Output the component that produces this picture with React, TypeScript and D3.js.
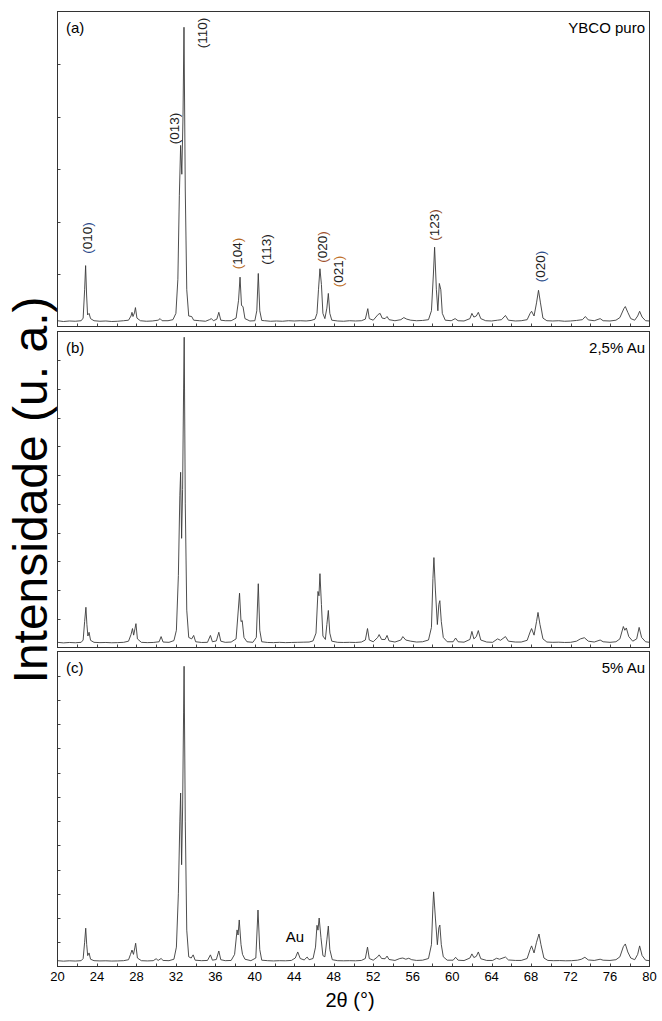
import React, { useEffect, useRef } from "react";
import * as d3 from "d3";

type Pt = [number, number];

// 2theta (deg), intensity (counts, 1000 per left tick)
const puro: Pt[] = [
  [20.0, 110], [20.6, 95], [21.2, 105], [21.8, 100], [22.4, 110], [22.6, 160], [22.75, 700], [22.85, 1160], [22.95, 600],
  [23.05, 220], [23.2, 250], [23.35, 150], [23.7, 110], [24.3, 100], [24.9, 105], [25.5, 95], [26.1, 100], [26.7, 110],
  [27.2, 120], [27.45, 200], [27.55, 270], [27.65, 190], [27.8, 260], [27.9, 360], [28.05, 160], [28.4, 110], [29.0, 100],
  [29.6, 105], [30.2, 120], [30.4, 150], [30.6, 110], [31.2, 110], [31.7, 130], [32.0, 250], [32.2, 900], [32.35, 2500],
  [32.48, 3450], [32.6, 2900], [32.72, 4000], [32.82, 5700], [32.95, 2600], [33.1, 700], [33.3, 200], [33.6, 190],
  [33.8, 120], [34.4, 110], [35.0, 100], [35.4, 130], [35.6, 150], [35.8, 110], [36.15, 140], [36.35, 270], [36.55, 120],
  [37.0, 110], [37.6, 110], [38.1, 160], [38.35, 500], [38.5, 940], [38.65, 400], [38.8, 380], [39.0, 150], [39.5, 105],
  [40.0, 110], [40.2, 300], [40.35, 1010], [40.5, 300], [40.7, 115], [41.0, 110], [41.6, 100], [42.2, 105], [42.8, 100],
  [43.4, 110], [44.0, 105], [44.6, 110], [45.2, 105], [45.7, 115], [46.1, 140], [46.3, 250], [46.45, 700], [46.6, 1100],
  [46.75, 800], [46.9, 250], [47.1, 150], [47.3, 350], [47.45, 630], [47.6, 250], [47.8, 120], [48.4, 105], [49.0, 100],
  [49.6, 110], [50.2, 105], [50.8, 110], [51.2, 140], [51.45, 340], [51.6, 150], [52.0, 120], [52.5, 230], [52.7, 250],
  [52.9, 160], [53.2, 150], [53.4, 190], [53.6, 130], [54.2, 110], [54.8, 130], [55.1, 170], [55.4, 140], [55.8, 120],
  [56.4, 110], [57.0, 115], [57.6, 130], [57.9, 300], [58.1, 1000], [58.22, 1510], [58.4, 700], [58.55, 300], [58.7, 820],
  [58.85, 700], [59.0, 250], [59.3, 120], [59.9, 110], [60.3, 150], [60.6, 110], [61.2, 105], [61.8, 150], [62.0, 250],
  [62.2, 180], [62.45, 200], [62.65, 270], [62.9, 150], [63.4, 110], [64.0, 105], [64.6, 120], [65.0, 130], [65.4, 210],
  [65.7, 120], [66.4, 105], [67.0, 110], [67.6, 130], [67.9, 250], [68.05, 290], [68.3, 200], [68.55, 450], [68.75, 690],
  [68.95, 450], [69.2, 160], [69.6, 110], [70.2, 105], [70.8, 110], [71.4, 100], [72.0, 105], [72.6, 115], [73.2, 130],
  [73.5, 190], [73.8, 125], [74.4, 110], [75.0, 150], [75.3, 110], [76.0, 105], [76.6, 120], [77.0, 170], [77.4, 340],
  [77.55, 380], [77.8, 270], [78.1, 150], [78.5, 120], [78.8, 200], [79.0, 290], [79.25, 180], [79.6, 110], [80.0, 105],
];

const au25: Pt[] = [
  [20.0, 180], [20.6, 160], [21.2, 175], [21.8, 165], [22.4, 180], [22.6, 260], [22.75, 900], [22.88, 1400], [22.98, 800],
  [23.08, 400], [23.2, 530], [23.35, 250], [23.7, 180], [24.3, 170], [24.9, 175], [25.5, 165], [26.1, 170], [26.7, 180],
  [27.2, 220], [27.45, 450], [27.6, 660], [27.72, 430], [27.85, 650], [27.95, 830], [28.1, 300], [28.5, 180], [29.1, 170],
  [29.7, 175], [30.3, 200], [30.5, 380], [30.7, 190], [31.3, 180], [31.8, 240], [32.05, 600], [32.25, 2500], [32.4, 5300],
  [32.48, 6100], [32.58, 3800], [32.68, 5500], [32.78, 9000], [32.84, 10800], [32.95, 5000], [33.1, 1300], [33.3, 350],
  [33.6, 300], [33.8, 420], [34.0, 200], [34.6, 175], [35.2, 180], [35.5, 420], [35.7, 200], [36.1, 230], [36.35, 530],
  [36.55, 220], [37.0, 180], [37.6, 190], [38.1, 300], [38.3, 1200], [38.45, 1890], [38.6, 900], [38.72, 940], [38.9, 350],
  [39.2, 200], [39.8, 180], [40.15, 350], [40.35, 2220], [40.5, 600], [40.7, 200], [41.3, 175], [41.9, 170], [42.5, 180],
  [43.1, 170], [43.7, 175], [44.3, 180], [44.9, 185], [45.5, 190], [45.9, 230], [46.2, 500], [46.4, 1950], [46.5, 1800],
  [46.6, 2570], [46.75, 1500], [46.9, 400], [47.15, 280], [47.3, 800], [47.45, 1290], [47.6, 500], [47.8, 220], [48.4, 180],
  [49.0, 175], [49.6, 180], [50.2, 175], [50.8, 190], [51.2, 260], [51.42, 660], [51.6, 260], [52.0, 200], [52.45, 350],
  [52.6, 450], [52.85, 280], [53.2, 280], [53.4, 420], [53.6, 230], [54.2, 190], [54.8, 260], [55.0, 380], [55.3, 260],
  [55.8, 220], [56.4, 190], [57.0, 200], [57.6, 260], [57.9, 700], [58.05, 2400], [58.15, 3130], [58.3, 2000], [58.5, 800],
  [58.65, 1500], [58.75, 1630], [58.9, 900], [59.1, 350], [59.5, 200], [60.1, 200], [60.35, 330], [60.6, 200], [61.2, 185],
  [61.8, 280], [62.0, 560], [62.2, 300], [62.45, 380], [62.65, 590], [62.9, 260], [63.5, 190], [64.1, 180], [64.6, 300],
  [64.9, 250], [65.4, 380], [65.7, 220], [66.4, 190], [67.0, 190], [67.6, 250], [67.9, 540], [68.05, 660], [68.3, 430],
  [68.55, 900], [68.7, 1220], [68.9, 800], [69.2, 300], [69.6, 190], [70.2, 180], [70.8, 185], [71.4, 175], [72.0, 180],
  [72.6, 220], [73.0, 300], [73.4, 340], [73.8, 220], [74.4, 190], [75.0, 260], [75.3, 200], [76.0, 180], [76.6, 200],
  [77.0, 300], [77.35, 730], [77.5, 600], [77.65, 680], [77.9, 380], [78.3, 220], [78.7, 300], [78.95, 700], [79.2, 350],
  [79.6, 200], [80.0, 180],
];

const au5: Pt[] = [
  [20.0, 240], [20.6, 220], [21.2, 235], [21.8, 225], [22.4, 240], [22.6, 330], [22.75, 1000], [22.86, 1580], [22.96, 900],
  [23.06, 450], [23.2, 560], [23.35, 300], [23.7, 240], [24.3, 230], [24.9, 235], [25.5, 225], [26.1, 230], [26.7, 240],
  [27.2, 280], [27.4, 500], [27.55, 680], [27.7, 500], [27.85, 800], [27.92, 960], [28.1, 350], [28.5, 240], [29.1, 230],
  [29.7, 240], [30.0, 320], [30.2, 250], [30.5, 330], [30.7, 250], [31.3, 240], [31.8, 300], [32.05, 800], [32.25, 3000],
  [32.4, 6000], [32.48, 7160], [32.58, 4200], [32.68, 6500], [32.78, 10500], [32.83, 12390], [32.95, 6000], [33.1, 1500],
  [33.3, 400], [33.55, 350], [33.75, 480], [33.95, 260], [34.6, 240], [35.2, 250], [35.5, 480], [35.7, 260], [36.1, 290],
  [36.35, 640], [36.55, 280], [37.0, 240], [37.6, 250], [37.95, 500], [38.2, 1510], [38.3, 1300], [38.42, 1920],
  [38.6, 900], [38.75, 500], [39.0, 300], [39.6, 240], [40.1, 350], [40.32, 2330], [40.5, 700], [40.7, 260], [41.3, 240],
  [41.9, 230], [42.5, 240], [43.1, 235], [43.7, 250], [44.1, 350], [44.35, 600], [44.6, 330], [45.0, 270], [45.3, 390],
  [45.5, 280], [45.9, 330], [46.15, 800], [46.3, 1700], [46.4, 1500], [46.52, 2000], [46.7, 1200], [46.9, 450], [47.1, 400],
  [47.3, 1100], [47.45, 1670], [47.6, 700], [47.85, 280], [48.4, 240], [49.0, 235], [49.6, 240], [50.2, 235], [50.8, 250],
  [51.2, 330], [51.42, 800], [51.6, 330], [52.0, 260], [52.45, 400], [52.6, 480], [52.85, 330], [53.2, 320], [53.4, 430],
  [53.6, 290], [54.2, 250], [54.7, 330], [55.0, 350], [55.3, 300], [55.6, 340], [55.9, 280], [56.4, 250], [57.0, 260],
  [57.6, 330], [57.9, 900], [58.05, 2500], [58.12, 3080], [58.3, 2000], [58.5, 900], [58.65, 1600], [58.75, 1710],
  [58.9, 900], [59.1, 400], [59.5, 260], [60.1, 260], [60.35, 380], [60.6, 260], [61.2, 245], [61.8, 350], [62.0, 520],
  [62.2, 370], [62.45, 420], [62.65, 600], [62.9, 320], [63.5, 250], [64.1, 250], [64.5, 340], [64.8, 300], [65.4, 390],
  [65.7, 270], [66.4, 250], [67.0, 250], [67.6, 330], [67.9, 700], [68.05, 850], [68.3, 560], [68.55, 1000], [68.8, 1340],
  [69.0, 900], [69.3, 350], [69.7, 250], [70.3, 240], [70.9, 245], [71.5, 235], [72.1, 240], [72.7, 260], [73.1, 300],
  [73.45, 380], [73.8, 270], [74.4, 250], [75.0, 300], [75.3, 260], [76.0, 250], [76.6, 280], [77.0, 400], [77.35, 820],
  [77.55, 930], [77.8, 600], [78.1, 350], [78.5, 280], [78.8, 500], [79.0, 850], [79.25, 450], [79.6, 260], [80.0, 240],
];

const panelTags = ["(a)", "(b)", "(c)"];
const sampleNames = ["YBCO puro", "2,5% Au", "5% Au"];
const yMaxima = [6000, 11000, 13000];
const xTickLabels = [20, 24, 28, 32, 36, 40, 44, 48, 52, 56, 60, 64, 68, 72, 76, 80];

// Miller indices on panel (a): label, 2theta, intensity at label centre, colour of brackets
const hklText = ["(010)", "(013)", "(110)", "(104)", "(113)", "(020)", "(021)", "(123)", "(020)"];
const hklAngle = [23.02, 31.76, 34.61, 38.24, 41.13, 46.76, 48.43, 58.16, 68.9];
const hklLevel = [1686, 3771, 5590, 1390, 1467, 1514, 1048, 1933, 1143];
const hklBracket = ["#2b4c8c", "#222", "#222", "#b86a1e", "#222", "#a0522d", "#c0702a", "#8b4a2a", "#2b4c8c"];

const W = 662;
const H = 1021;
const left = 57.5;
const right = 649.5;
const tops = [11.5, 331.5, 651.5];
const bottoms = [326.5, 647.5, 966.5];
const font = "Arial, 'Liberation Sans', sans-serif";

const drawChart = (ref: SVGSVGElement) => {
  const svg = d3.select(ref);
  svg.selectAll("*").remove();

  const x = d3.scaleLinear().domain([20, 80]).range([left, right]);
  const traces = [puro, au25, au5];

  traces.forEach((trace, i) => {
    const y = d3.scaleLinear().domain([0, yMaxima[i]]).range([bottoms[i], tops[i]]);
    const g = svg.append("g");

    // inward ticks
    d3.range(1000, yMaxima[i], 1000).forEach((v) => {
      g.append("line")
        .attr("x1", left).attr("x2", left + 3)
        .attr("y1", Math.round(y(v)) + 0.5).attr("y2", Math.round(y(v)) + 0.5)
        .attr("stroke", "#444");
    });
    d3.range(22, 80, 2).forEach((v) => {
      g.append("line")
        .attr("x1", Math.round(x(v)) + 0.5).attr("x2", Math.round(x(v)) + 0.5)
        .attr("y1", bottoms[i]).attr("y2", bottoms[i] - 3)
        .attr("stroke", "#444");
    });

    const line = d3.line<Pt>().x((d) => x(d[0])).y((d) => y(d[1]));
    g.append("path")
      .datum(trace)
      .attr("d", line)
      .attr("fill", "none")
      .attr("stroke", "#3a3a3a")
      .attr("stroke-width", 0.9)
      .attr("stroke-linejoin", "round");

    g.append("rect")
      .attr("x", left).attr("y", tops[i])
      .attr("width", right - left).attr("height", bottoms[i] - tops[i])
      .attr("fill", "none").attr("stroke", "#333").attr("stroke-width", 1);

    g.append("text")
      .attr("x", 66).attr("y", tops[i] + 21)
      .attr("font-family", font).attr("font-size", 15)
      .text(panelTags[i]);
    g.append("text")
      .attr("x", 645).attr("y", tops[i] + 21)
      .attr("text-anchor", "end")
      .attr("font-family", font).attr("font-size", 15)
      .text(sampleNames[i]);

    if (i === 0) {
      hklText.forEach((t, k) => {
        const tx = x(hklAngle[k]);
        const ty = y(hklLevel[k]);
        const txt = g.append("text")
          .attr("transform", `translate(${tx},${ty}) rotate(-90)`)
          .attr("text-anchor", "middle")
          .attr("dominant-baseline", "central")
          .attr("font-family", font).attr("font-size", 13.5)
          .attr("fill", "#222");
        txt.append("tspan").attr("fill", hklBracket[k]).text("(");
        txt.append("tspan").text(t.slice(1, -1));
        txt.append("tspan").attr("fill", hklBracket[k]).text(")");
      });
    }

    if (i === 2) {
      g.append("text")
        .attr("x", x(44.07)).attr("y", y(1219))
        .attr("text-anchor", "middle")
        .attr("dominant-baseline", "central")
        .attr("font-family", font).attr("font-size", 15)
        .text("Au");

      g.selectAll("text.xl")
        .data(xTickLabels)
        .enter()
        .append("text")
        .attr("class", "xl")
        .attr("x", (d) => x(d))
        .attr("y", bottoms[i] + 14.5)
        .attr("text-anchor", "middle")
        .attr("font-family", font).attr("font-size", 13)
        .text((d) => d);
    }
  });

  svg.append("text")
    .attr("x", 350).attr("y", 1007)
    .attr("text-anchor", "middle")
    .attr("font-family", font).attr("font-size", 20)
    .text("2θ (°)");

  svg.append("text")
    .attr("transform", "translate(47,490) rotate(-90)")
    .attr("text-anchor", "middle")
    .attr("font-family", font).attr("font-size", 48)
    .text("Intensidade (u. a.)");
};

export default function App() {
  const svgRef = useRef<SVGSVGElement>(null);

  useEffect(() => {
    if (svgRef.current) drawChart(svgRef.current);
  }, []);

  return (
    <svg
      ref={svgRef}
      width={W}
      height={H}
      style={{ position: "absolute", left: 0, top: 0, background: "#fff" }}
    />
  );
}
